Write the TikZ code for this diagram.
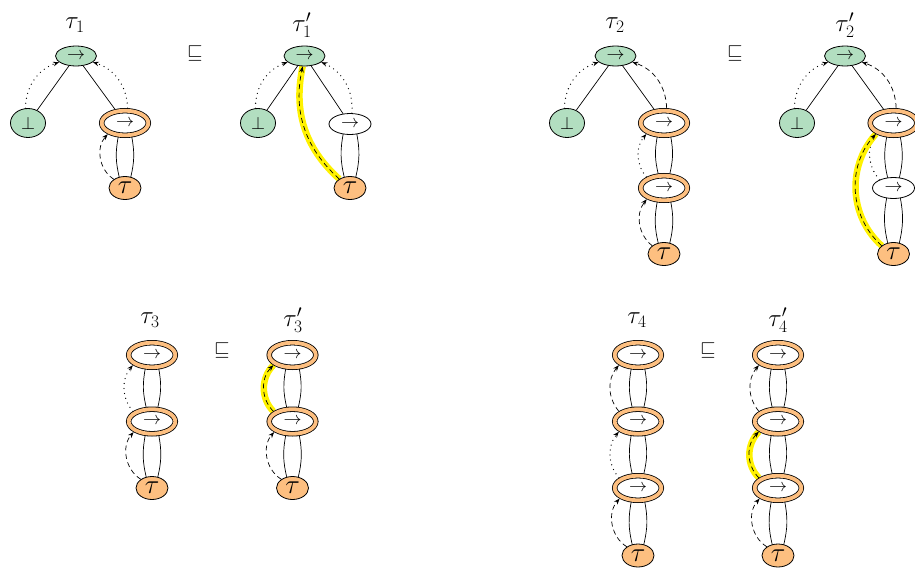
\RequirePackage{fix-cm}
\documentclass[tikz,border=0pt]{standalone}
\usetikzlibrary{arrows.meta,shapes.geometric}
\pgfdeclarelayer{bg}
\pgfsetlayers{bg,main}
\definecolor{ngreen}{RGB}{178,222,192}
\definecolor{norange}{RGB}{253,191,128}
\definecolor{hlyellow}{RGB}{255,242,0}
\tikzset{
  nd/.style={ellipse, draw=black, line width=0.8pt, inner sep=0pt, font=\fontsize{18}{20}\selectfont},
  gtop/.style={nd, fill=ngreen, minimum width=41pt, minimum height=20pt},
  gbot/.style={nd, fill=ngreen, minimum width=35pt, minimum height=29pt},
  oarr/.style={nd, fill=white, double=norange, double distance=3.8pt, minimum width=46.6pt, minimum height=24.6pt, outer sep=2.7pt},
  warr/.style={nd, fill=white, minimum width=42pt, minimum height=21pt},
  tnode/.style={nd, fill=norange, minimum width=32pt, minimum height=23pt, font=\fontsize{27}{29}\selectfont},
  lab/.style={inner sep=0pt, font=\fontsize{25}{27}\selectfont},
  sqs/.style={inner sep=0pt, font=\fontsize{20}{22}\selectfont},
  ln/.style={line width=0.7pt},
  tipst/.style={-{Stealth[length=6pt,width=4.5pt]}},
  dsh/.style={ln, tipst, dash pattern=on 5pt off 3.5pt},
  dtt/.style={line width=1.3pt, tipst, line cap=round, dash pattern=on 0pt off 5pt},
  hlt/.style={line width=6.5pt, draw=hlyellow},
}
\newcommand\lensA[2]{%
  \draw[ln, shorten <=-2pt, shorten >=-2pt] ([xshift=-7pt]#1.south) to[bend right=12] ([xshift=-6pt]#2.north);
  \draw[ln, shorten <=-2pt, shorten >=-2pt] ([xshift=7pt]#1.south) to[bend left=12] ([xshift=6pt]#2.north);}
\begin{document}
\begin{tikzpicture}[x=1pt,y=-1pt]
\useasboundingbox (0,0) rectangle (915,570);
% tau1
\node[lab] (L1) at (75,25) {$\tau_1$};
\node[gtop] (a1) at (76,56) {$\rightarrow$};
\node[gbot] (a2) at (28,123) {$\perp$};
\node[oarr] (a3) at (125,123) {$\rightarrow$};
\node[tnode] (a4) at (125,188) {$\tau$};
\node[sqs] (S1) at (195,53) {$\sqsubseteq$};
% tau1'
\node[lab] (L1p) at (302,25) {$\tau'_1$};
\node[gtop] (b1) at (304.5,56) {$\rightarrow$};
\node[gbot] (b2) at (258,123) {$\perp$};
\node[warr] (b3) at (350,124) {$\rightarrow$};
\node[tnode] (b4) at (350,188) {$\tau$};
% tau2
\node[lab] (L2) at (615,25) {$\tau_2$};
\node[gtop] (c1) at (615.5,56) {$\rightarrow$};
\node[gbot] (c2) at (567,123) {$\perp$};
\node[oarr] (c3) at (664,123) {$\rightarrow$};
\node[oarr] (c4) at (664,188) {$\rightarrow$};
\node[tnode] (c5) at (664,254) {$\tau$};
\node[sqs] (S2) at (735,53) {$\sqsubseteq$};
% tau2'
\node[lab] (L2p) at (845,25) {$\tau'_2$};
\node[gtop] (d1) at (845,56) {$\rightarrow$};
\node[gbot] (d2) at (797,123) {$\perp$};
\node[oarr] (d3) at (893.5,123) {$\rightarrow$};
\node[warr] (d4) at (893.5,188) {$\rightarrow$};
\node[tnode] (d5) at (893.5,254) {$\tau$};
% tau3
\node[lab] (L3) at (150,320) {$\tau_3$};
\node[oarr] (e1) at (152,355) {$\rightarrow$};
\node[oarr] (e2) at (152,421.5) {$\rightarrow$};
\node[tnode] (e3) at (152,488) {$\tau$};
\node[sqs] (S3) at (222,350) {$\sqsubseteq$};
% tau3'
\node[lab] (L3p) at (293,320) {$\tau'_3$};
\node[oarr] (f1) at (292.5,355) {$\rightarrow$};
\node[oarr] (f2) at (292.5,421.5) {$\rightarrow$};
\node[tnode] (f3) at (292.5,488) {$\tau$};
% tau4
\node[lab] (L4) at (637,320) {$\tau_4$};
\node[oarr] (g1) at (638,355) {$\rightarrow$};
\node[oarr] (g2) at (638,421.5) {$\rightarrow$};
\node[oarr] (g3) at (638,488) {$\rightarrow$};
\node[tnode] (g4) at (638,555.5) {$\tau$};
\node[sqs] (S4) at (708,350) {$\sqsubseteq$};
% tau4'
\node[lab] (L4p) at (778,320) {$\tau'_4$};
\node[oarr] (h1) at (778,355) {$\rightarrow$};
\node[oarr] (h2) at (778,421.5) {$\rightarrow$};
\node[oarr] (h3) at (778,488) {$\rightarrow$};
\node[tnode] (h4) at (778,555.5) {$\tau$};

\begin{pgfonlayer}{bg}
\draw[ln] (a1) -- (a2); \draw[ln] (a1) -- (a3); \lensA{a3}{a4}
\draw[ln] (b1) -- (b2); \draw[ln] (b1) -- (b3); \lensA{b3}{b4}
\draw[ln] (c1) -- (c2); \draw[ln] (c1) -- (c3); \lensA{c3}{c4} \lensA{c4}{c5}
\draw[ln] (d1) -- (d2); \draw[ln] (d1) -- (d3); \lensA{d3}{d4} \lensA{d4}{d5}
\lensA{e1}{e2} \lensA{e2}{e3}
\lensA{f1}{f2} \lensA{f2}{f3}
\lensA{g1}{g2} \lensA{g2}{g3} \lensA{g3}{g4}
\lensA{h1}{h2} \lensA{h2}{h3} \lensA{h3}{h4}
\draw[dtt] (d4.150) to[bend left=35] (d3.212);
\draw[hlt] (b4.140) to[bend left=30] (b1.-100);
\draw[hlt] (d5.145) to[bend left=45] (d3.212);
\draw[hlt] (f2.152) to[bend left=45] (f1.208);
\draw[hlt] (h3.152) to[bend left=45] (h2.208);
\end{pgfonlayer}

% tau1 arrows
\draw[dtt] (a2.100) to[bend left=35] (a1.200);
\draw[dtt] (a3.80) to[bend right=35] (a1.-20);
\draw[dsh] (a4.142) to[bend left=50] (a3.213);
% tau1'
\draw[dtt] (b2.100) to[bend left=35] (b1.200);
\draw[dtt] (b3.80) to[bend right=35] (b1.-20);
\draw[dsh] (b4.140) to[bend left=30] (b1.-100);
% tau2
\draw[dtt] (c2.100) to[bend left=35] (c1.200);
\draw[dsh] (c3.80) to[bend right=35] (c1.-20);
\draw[dtt] (c4.148) to[bend left=40] (c3.212);
\draw[dsh] (c5.145) to[bend left=45] (c4.213);
% tau2'
\draw[dtt] (d2.100) to[bend left=35] (d1.200);
\draw[dsh] (d3.80) to[bend right=35] (d1.-20);
\draw[dsh] (d5.145) to[bend left=45] (d3.212);
% tau3
\draw[dtt] (e2.152) to[bend left=40] (e1.208);
\draw[dsh] (e3.142) to[bend left=50] (e2.210);
% tau3'
\draw[dsh] (f2.152) to[bend left=45] (f1.208);
\draw[dsh] (f3.142) to[bend left=50] (f2.210);
% tau4
\draw[dsh] (g2.152) to[bend left=40] (g1.208);
\draw[dtt] (g3.152) to[bend left=40] (g2.208);
\draw[dsh] (g4.142) to[bend left=50] (g3.210);
% tau4'
\draw[dsh] (h2.152) to[bend left=40] (h1.208);
\draw[dsh] (h3.152) to[bend left=45] (h2.208);
\draw[dsh] (h4.142) to[bend left=50] (h3.210);
\end{tikzpicture}
\end{document}
